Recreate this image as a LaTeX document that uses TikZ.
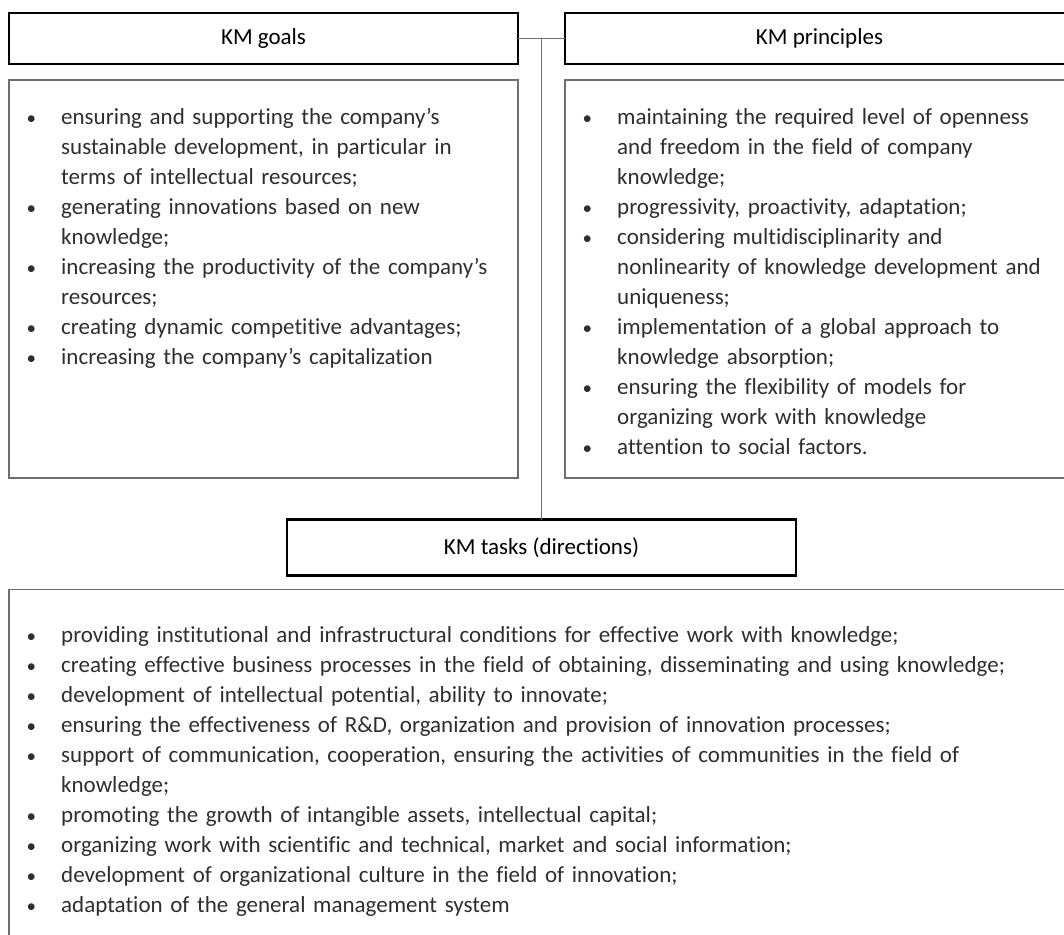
\documentclass[tikz,border=0pt]{standalone}
\usepackage{fontspec}
\setmainfont[Ligatures=NoCommon]{Carlito}
\usepackage{enumitem}
\usetikzlibrary{calc, positioning}
\definecolor{linegray}{HTML}{6E6E6E}
\definecolor{textgray}{HTML}{2E2E2E}
\setlist[itemize]{label={\fontsize{19}{30}\selectfont\textbullet}, nosep, leftmargin=52pt, labelsep=25pt}

\begin{document}
\begin{tikzpicture}[x=1pt, y=-1pt,
    headbox/.style={rectangle, draw=black, line width=2.6pt, minimum width=509pt, minimum height=51pt, inner sep=0pt, outer sep=0pt, font=\fontsize{23}{30}\selectfont},
    bodybox/.style={rectangle, draw=linegray, line width=1.3pt, minimum width=509pt, minimum height=398pt, inner sep=0pt, outer sep=0pt},
    bodytext/.style={anchor=north west, inner sep=0pt, align=left, text=textgray, font=\fontsize{23}{30}\selectfont},
    link/.style={draw=linegray, line width=1.3pt}]
    \useasboundingbox (0,0) rectangle (1064,934);
    \clip (0,0) rectangle (1064,934);

    \node[headbox] (goalshead) at (263.5,38.5) {KM goals};
    \node[headbox, right=47pt of goalshead] (princhead) {KM principles};

    \node[bodybox, below=16pt of goalshead] (goalsbody) {};
    \node[bodybox, below=16pt of princhead] (princbody) {};

    \coordinate (linkmid) at ($(goalshead.east)!0.5!(princhead.west)$);
    \node[headbox, minimum height=56pt, below=481pt of linkmid] (taskshead) {KM tasks (directions)};
    \node[bodybox, minimum width=1065pt, minimum height=355pt, below=14pt of taskshead] (tasksbody) {};

    \draw[link] (goalshead.east) -- (princhead.west);
    \draw[link] (linkmid) -- (taskshead.north);

    \node[bodytext, text width=500pt] (goalstext) at ([yshift=-14.5pt]goalsbody.north west) {%
    \begin{itemize}
        \item \strut ensuring and supporting the company’s\newline sustainable development, in particular in\newline terms of intellectual resources;
        \item generating innovations based on new\newline knowledge;
        \item increasing the productivity of the company’s\newline resources;
        \item creating dynamic competitive advantages;
        \item increasing the company’s capitalization
    \end{itemize}};

    \node[bodytext, text width=500pt] (princtext) at ([yshift=-14.5pt]princbody.north west) {%
    \begin{itemize}
        \item \strut maintaining the required level of openness\newline and freedom in the field of company\newline knowledge;
        \item progressivity, proactivity, adaptation;
        \item considering multidisciplinarity and\newline nonlinearity of knowledge development and\newline uniqueness;
        \item implementation of a global approach to\newline knowledge absorption;
        \item ensuring the flexibility of models for\newline organizing work with knowledge
        \item attention to social factors.
    \end{itemize}};

    \node[bodytext, text width=1040pt] (taskstext) at ([yshift=-22.5pt]tasksbody.north west) {%
    \begin{itemize}
        \item \strut providing institutional and infrastructural conditions for effective work with knowledge;
        \item creating effective business processes in the field of obtaining, disseminating and using knowledge;
        \item development of intellectual potential, ability to innovate;
        \item ensuring the effectiveness of R\&D, organization and provision of innovation processes;
        \item support of communication, cooperation, ensuring the activities of communities in the field of\newline knowledge;
        \item promoting the growth of intangible assets, intellectual capital;
        \item organizing work with scientific and technical, market and social information;
        \item development of organizational culture in the field of innovation;
        \item adaptation of the general management system
    \end{itemize}};
\end{tikzpicture}
\end{document}
